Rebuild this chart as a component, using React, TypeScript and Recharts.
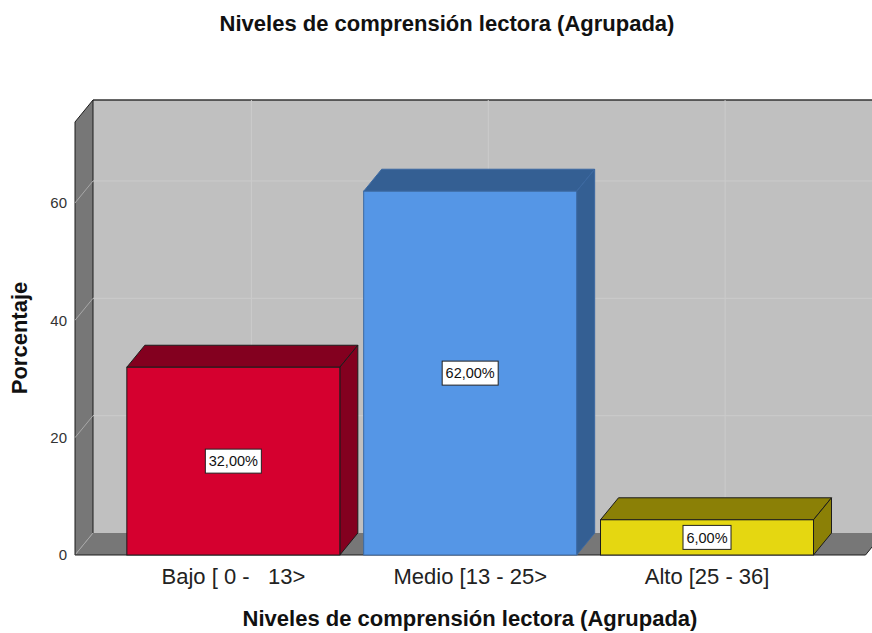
import React from 'react';
import { BarChart, Bar, XAxis, YAxis, ReferenceArea, LabelList } from 'recharts';

// datos
const categories = ['Bajo [ 0 -   13>', 'Medio [13 - 25>', 'Alto [25 - 36]'];
const percentages = [32, 62, 6];
const yTicks = [0, 20, 40, 60];
const Y_MAX = 73.8;

const frontColors = ['#d5002f', '#5596e6', '#e5d711'];
const darkColors = ['#83001f', '#345f93', '#8b8006'];
const edgeColors = ['#1c1c1c', '#3c69a2', '#1c1c1c'];

// profundidad 3D y relleno del eje de categorías
const DX = 18;
const DY = -22;
const PAD = 40;
const FONT = '"Liberation Sans", Arial, sans-serif';

const data = categories.map((name, i) => ({ name, value: percentages[i], idx: i }));

const Walls = (props: any) => {
    const { x, y, width, height } = props;
    const l = x - PAD;
    const r = x + width + PAD;
    const t = y;
    const b = y + height;
    return (
        <g>
            <rect x={l + DX} y={t + DY} width={r - l} height={height} fill="#c0c0c0" />
            <polygon points={`${l},${t} ${l + DX},${t + DY} ${l + DX},${b + DY} ${l},${b}`} fill="#777777" />
            <polygon points={`${l},${b} ${l + DX},${b + DY} ${r + DX},${b + DY} ${r},${b}`} fill="#777777" />
            <line x1={l} y1={b} x2={l + DX} y2={b + DY} stroke="#a8a8a8" />
            <line x1={l + DX} y1={t + DY} x2={r + DX} y2={t + DY} stroke="#333" strokeWidth={1.5} />
            <line x1={l} y1={t} x2={l + DX} y2={t + DY} stroke="#1c1c1c" />
            <line x1={l} y1={t} x2={l} y2={b} stroke="#1c1c1c" />
            <line x1={l + DX} y1={t + DY} x2={l + DX} y2={b + DY} stroke="#1c1c1c" />
            <line x1={l} y1={b} x2={r} y2={b} stroke="#1c1c1c" />
            <line x1={r} y1={b} x2={r + DX} y2={b + DY} stroke="#1c1c1c" />
        </g>
    );
};

const GridRow = (props: any) => {
    const { x, y, width } = props;
    const l = x - PAD;
    const r = x + width + PAD;
    return (
        <g>
            <line x1={l} y1={y} x2={l + DX} y2={y + DY} stroke="#a8a8a8" />
            <line x1={l + DX} y1={y + DY} x2={r + DX} y2={y + DY} stroke="#cbcbcb" />
        </g>
    );
};

const GridCol = (props: any) => {
    const { x, y, width, height } = props;
    const cx = x + width / 2 + DX;
    return <line x1={cx} y1={y + DY} x2={cx} y2={y + height + DY} stroke="#cbcbcb" />;
};

const Box3D = (props: any) => {
    const { x, y, width: w, height: h } = props;
    const i = props.payload?.idx ?? props.index ?? 0;
    const edge = edgeColors[i];
    return (
        <g>
            <polygon
                points={`${x},${y} ${x + DX},${y + DY} ${x + w + DX},${y + DY} ${x + w},${y}`}
                fill={darkColors[i]}
                stroke={edge}
            />
            <polygon
                points={`${x + w},${y} ${x + w + DX},${y + DY} ${x + w + DX},${y + h + DY} ${x + w},${y + h}`}
                fill={darkColors[i]}
                stroke={edge}
            />
            <rect x={x} y={y} width={w} height={h} fill={frontColors[i]} stroke={edge} />
        </g>
    );
};

const ValueBox = (props: any) => {
    const { x, y, width, height, value } = props;
    const text = Number(value).toFixed(2).replace('.', ',') + '%';
    const bw = text.length * 8 + 8;
    const bh = 24;
    const cx = x + width / 2;
    const cy = y + height / 2;
    return (
        <g>
            <rect x={cx - bw / 2} y={cy - bh / 2} width={bw} height={bh} fill="#fff" stroke="#222" />
            <text x={cx} y={cy} dy="0.36em" textAnchor="middle" fontSize={14.5} fill="#111" fontFamily={FONT}>
                {text}
            </text>
        </g>
    );
};

const CategoryTick = ({ x, y, payload }: any) => (
    <text
        x={x}
        y={y}
        dy="0.71em"
        textAnchor="middle"
        fontSize={22}
        fill="#222"
        fontFamily={FONT}
        xmlSpace="preserve"
        style={{ whiteSpace: 'pre' }}
    >
        {payload.value}
    </text>
);

export default function App() {
    const first = categories[0];
    const last = categories[categories.length - 1];
    return (
        <div style={{ position: 'absolute', left: 0, top: 0, width: 872, height: 633, background: '#fff', fontFamily: FONT }}>
            <div style={{ position: 'absolute', left: 447, top: 13, transform: 'translateX(-50%)', whiteSpace: 'nowrap', fontSize: 22, lineHeight: '22px', fontWeight: 'bold', color: '#111' }}>
                Niveles de comprensión lectora (Agrupada)
            </div>
            <BarChart
                width={872}
                height={633}
                data={data}
                margin={{ top: 122, right: 6.5, bottom: 38, left: 15 }}
                barCategoryGap="5%"
            >
                <ReferenceArea x1={first} x2={last} y1={0} y2={Y_MAX} shape={Walls} ifOverflow="visible" />
                {yTicks.filter(t => t > 0).map(t => (
                    <ReferenceArea key={'r' + t} x1={first} x2={last} y1={0} y2={t} shape={GridRow} ifOverflow="visible" />
                ))}
                {categories.map(c => (
                    <ReferenceArea key={'c' + c} x1={c} x2={c} y1={0} y2={Y_MAX} shape={GridCol} ifOverflow="visible" />
                ))}
                <XAxis
                    dataKey="name"
                    height={40}
                    axisLine={false}
                    tickLine={false}
                    tickSize={0}
                    tickMargin={13}
                    padding={{ left: PAD, right: PAD }}
                    tick={<CategoryTick />}
                    interval={0}
                />
                <YAxis
                    width={60}
                    domain={[0, Y_MAX]}
                    ticks={yTicks}
                    axisLine={false}
                    tickLine={false}
                    tickSize={0}
                    tickMargin={8}
                    tick={{ fontSize: 15, fill: '#333', fontFamily: FONT }}
                />
                <Bar dataKey="value" shape={Box3D} isAnimationActive={false}>
                    <LabelList dataKey="value" content={ValueBox} />
                </Bar>
            </BarChart>
            <div style={{ position: 'absolute', left: 470, top: 608, transform: 'translateX(-50%)', whiteSpace: 'nowrap', fontSize: 22, lineHeight: '22px', fontWeight: 'bold', color: '#111' }}>
                Niveles de comprensión lectora (Agrupada)
            </div>
            <div style={{ position: 'absolute', left: 20, top: 338, transform: 'translate(-50%, -50%) rotate(-90deg)', whiteSpace: 'nowrap', fontSize: 22, lineHeight: '22px', fontWeight: 'bold', color: '#111' }}>
                Porcentaje
            </div>
        </div>
    );
}
